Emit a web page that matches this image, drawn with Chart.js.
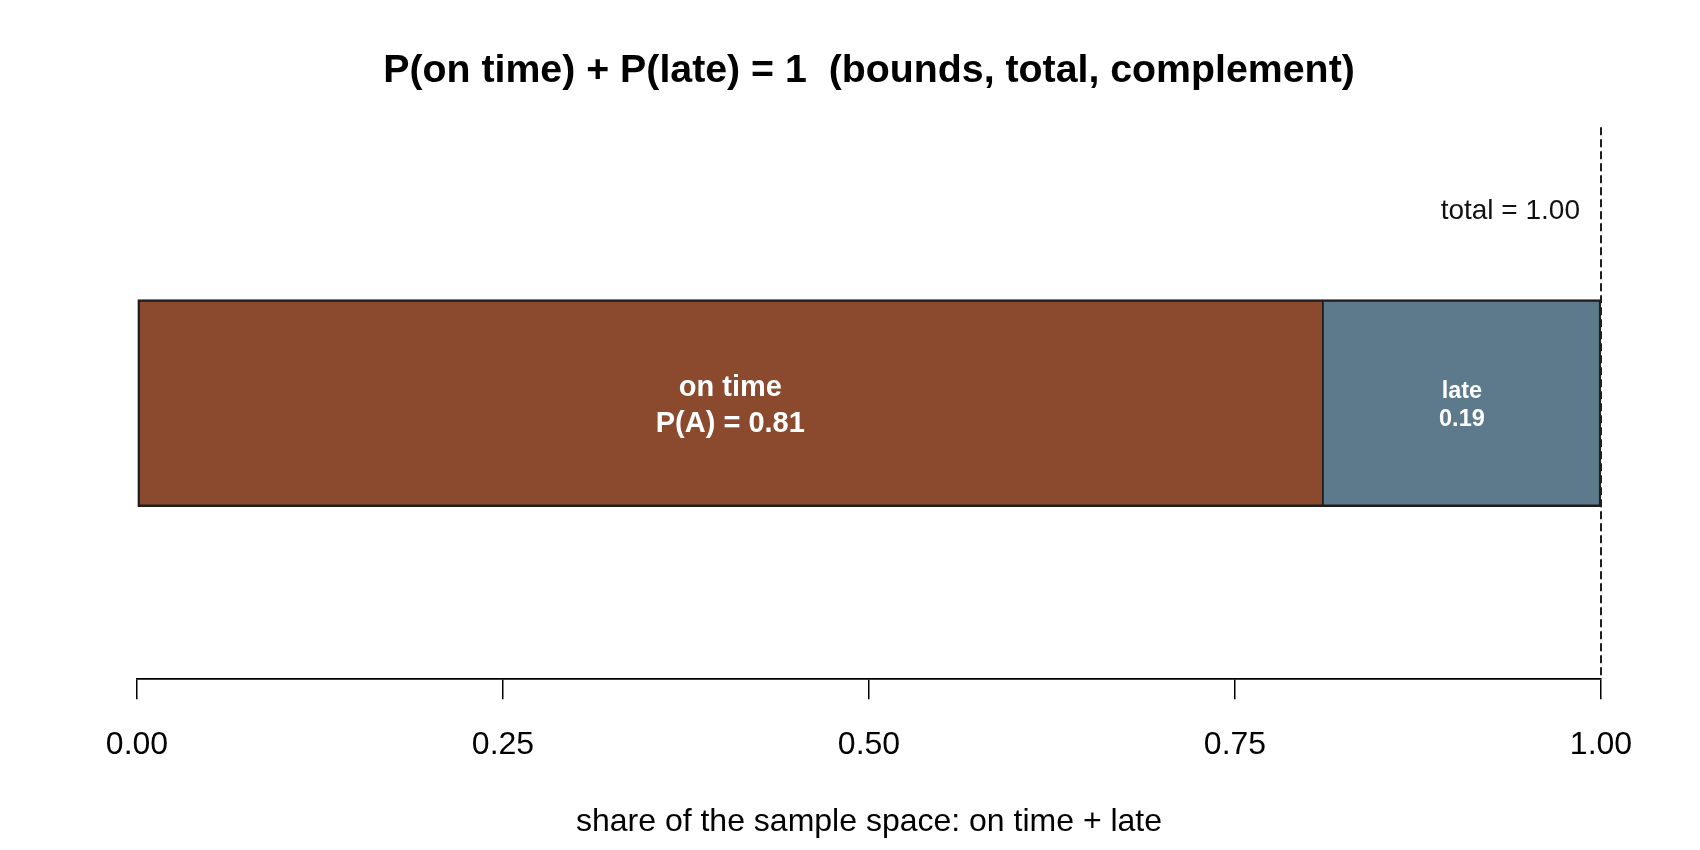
<!DOCTYPE html>
<html>
<head>
<meta charset="utf-8">
<title>P(on time) + P(late) = 1</title>
<script src="https://cdn.jsdelivr.net/npm/chart.js@4.4.1/dist/chart.umd.min.js"></script>
<style>
  html, body { margin: 0; padding: 0; background: #ffffff; }
  #wrap { width: 1700px; height: 850px; }
</style>
</head>
<body>
<div id="wrap"><canvas id="partChart" width="1700" height="850"></canvas></div>
<script>
// DATA
const categories = ["on time", "late"];
const shares = [0.81, 0.19];
const segmentText = [["on time", "P(A) = 0.81"], ["late", "0.19"]];
const xTicks = [0, 0.25, 0.5, 0.75, 1];
const totalValue = 1;
const totalText = "total = 1.00";

// estilos
const FONT = "'Liberation Sans', Arial, sans-serif";
const segColors = ["#8b4a2e", "#5c7a8b"];
const edgeColor = "#1e1e1e";
// tamaño de letra y desplazamiento de cada renglon respecto al centro de la barra
const segTextStyle = [
  { size: 29, offsets: [-7, 29] },
  { size: 23.5, offsets: [-5, 23] }
];

// bordes: el corte entre las dos partes queda como una sola linea
function segBorder(i) {
  const half = 1.25, full = 2.5;
  return {
    top: full,
    bottom: full,
    left: i === 0 ? full : half,
    right: i === categories.length - 1 ? full : half
  };
}

const datasets = categories.map((cat, i) => ({
  label: cat,
  data: [shares[i]],
  backgroundColor: segColors[i],
  borderColor: edgeColor,
  borderWidth: segBorder(i),
  borderSkipped: false,
  barThickness: 207,
  stack: "space"
}));

// linea punteada del total (debajo de las barras)
const totalLinePlugin = {
  id: "totalLine",
  beforeDatasetsDraw(chart) {
    const ctx = chart.ctx;
    const area = chart.chartArea;
    const xp = chart.scales.x.getPixelForValue(totalValue);
    ctx.save();
    ctx.strokeStyle = edgeColor;
    ctx.lineWidth = 2;
    ctx.setLineDash([8, 4]);
    ctx.beginPath();
    ctx.moveTo(xp, area.top);
    ctx.lineTo(xp, area.bottom);
    ctx.stroke();
    ctx.restore();
  },
  afterDatasetsDraw(chart) {
    const ctx = chart.ctx;
    const area = chart.chartArea;
    const xp = chart.scales.x.getPixelForValue(totalValue);
    ctx.save();
    ctx.fillStyle = "#111111";
    ctx.font = "28px " + FONT;
    ctx.textAlign = "right";
    ctx.textBaseline = "alphabetic";
    ctx.fillText(totalText, xp - 21, area.top + 92);
    ctx.restore();
  }
};

// textos dentro de cada parte
const segLabelPlugin = {
  id: "segLabels",
  afterDatasetsDraw(chart) {
    const ctx = chart.ctx;
    ctx.save();
    ctx.fillStyle = "#ffffff";
    ctx.textAlign = "center";
    ctx.textBaseline = "alphabetic";
    chart.data.datasets.forEach((ds, i) => {
      const bar = chart.getDatasetMeta(i).data[0];
      const p = bar.getProps(["x", "y", "base"], true);
      const cx = (p.x + p.base) / 2;
      const st = segTextStyle[i];
      ctx.font = "bold " + st.size + "px " + FONT;
      segmentText[i].forEach((line, k) => {
        ctx.fillText(line, cx, p.y + st.offsets[k]);
      });
    });
    ctx.restore();
  }
};

new Chart(document.getElementById("partChart"), {
  type: "bar",
  data: { labels: ["sample space"], datasets: datasets },
  options: {
    indexAxis: "y",
    responsive: false,
    animation: false,
    devicePixelRatio: 1,
    layout: { padding: { left: 137, right: 99, top: 0, bottom: 3 } },
    scales: {
      x: {
        type: "linear",
        min: 0,
        max: 1,
        stacked: true,
        afterBuildTicks: (s) => { s.ticks = xTicks.map((v) => ({ value: v })); },
        ticks: {
          callback: (v) => Number(v).toFixed(2),
          font: { family: FONT, size: 32 },
          color: "#000000",
          padding: 27,
          maxRotation: 0,
          autoSkip: false
        },
        grid: {
          drawOnChartArea: false,
          drawTicks: true,
          tickLength: 20,
          color: "#000000",
          lineWidth: 1.5
        },
        border: { display: true, color: "#000000", width: 1.7 },
        title: {
          display: true,
          text: "share of the sample space: on time + late",
          font: { family: FONT, size: 32 },
          color: "#000000",
          padding: { top: 11.5, bottom: 5.5 }
        }
      },
      y: { stacked: true, display: false }
    },
    plugins: {
      legend: { display: false },
      tooltip: { enabled: false },
      title: {
        display: true,
        text: "P(on time) + P(late) = 1  (bounds, total, complement)",
        font: { family: FONT, size: 39.3, weight: "bold" },
        color: "#000000",
        padding: { top: 48, bottom: 32 }
      }
    }
  },
  plugins: [totalLinePlugin, segLabelPlugin]
});
</script>
</body>
</html>
